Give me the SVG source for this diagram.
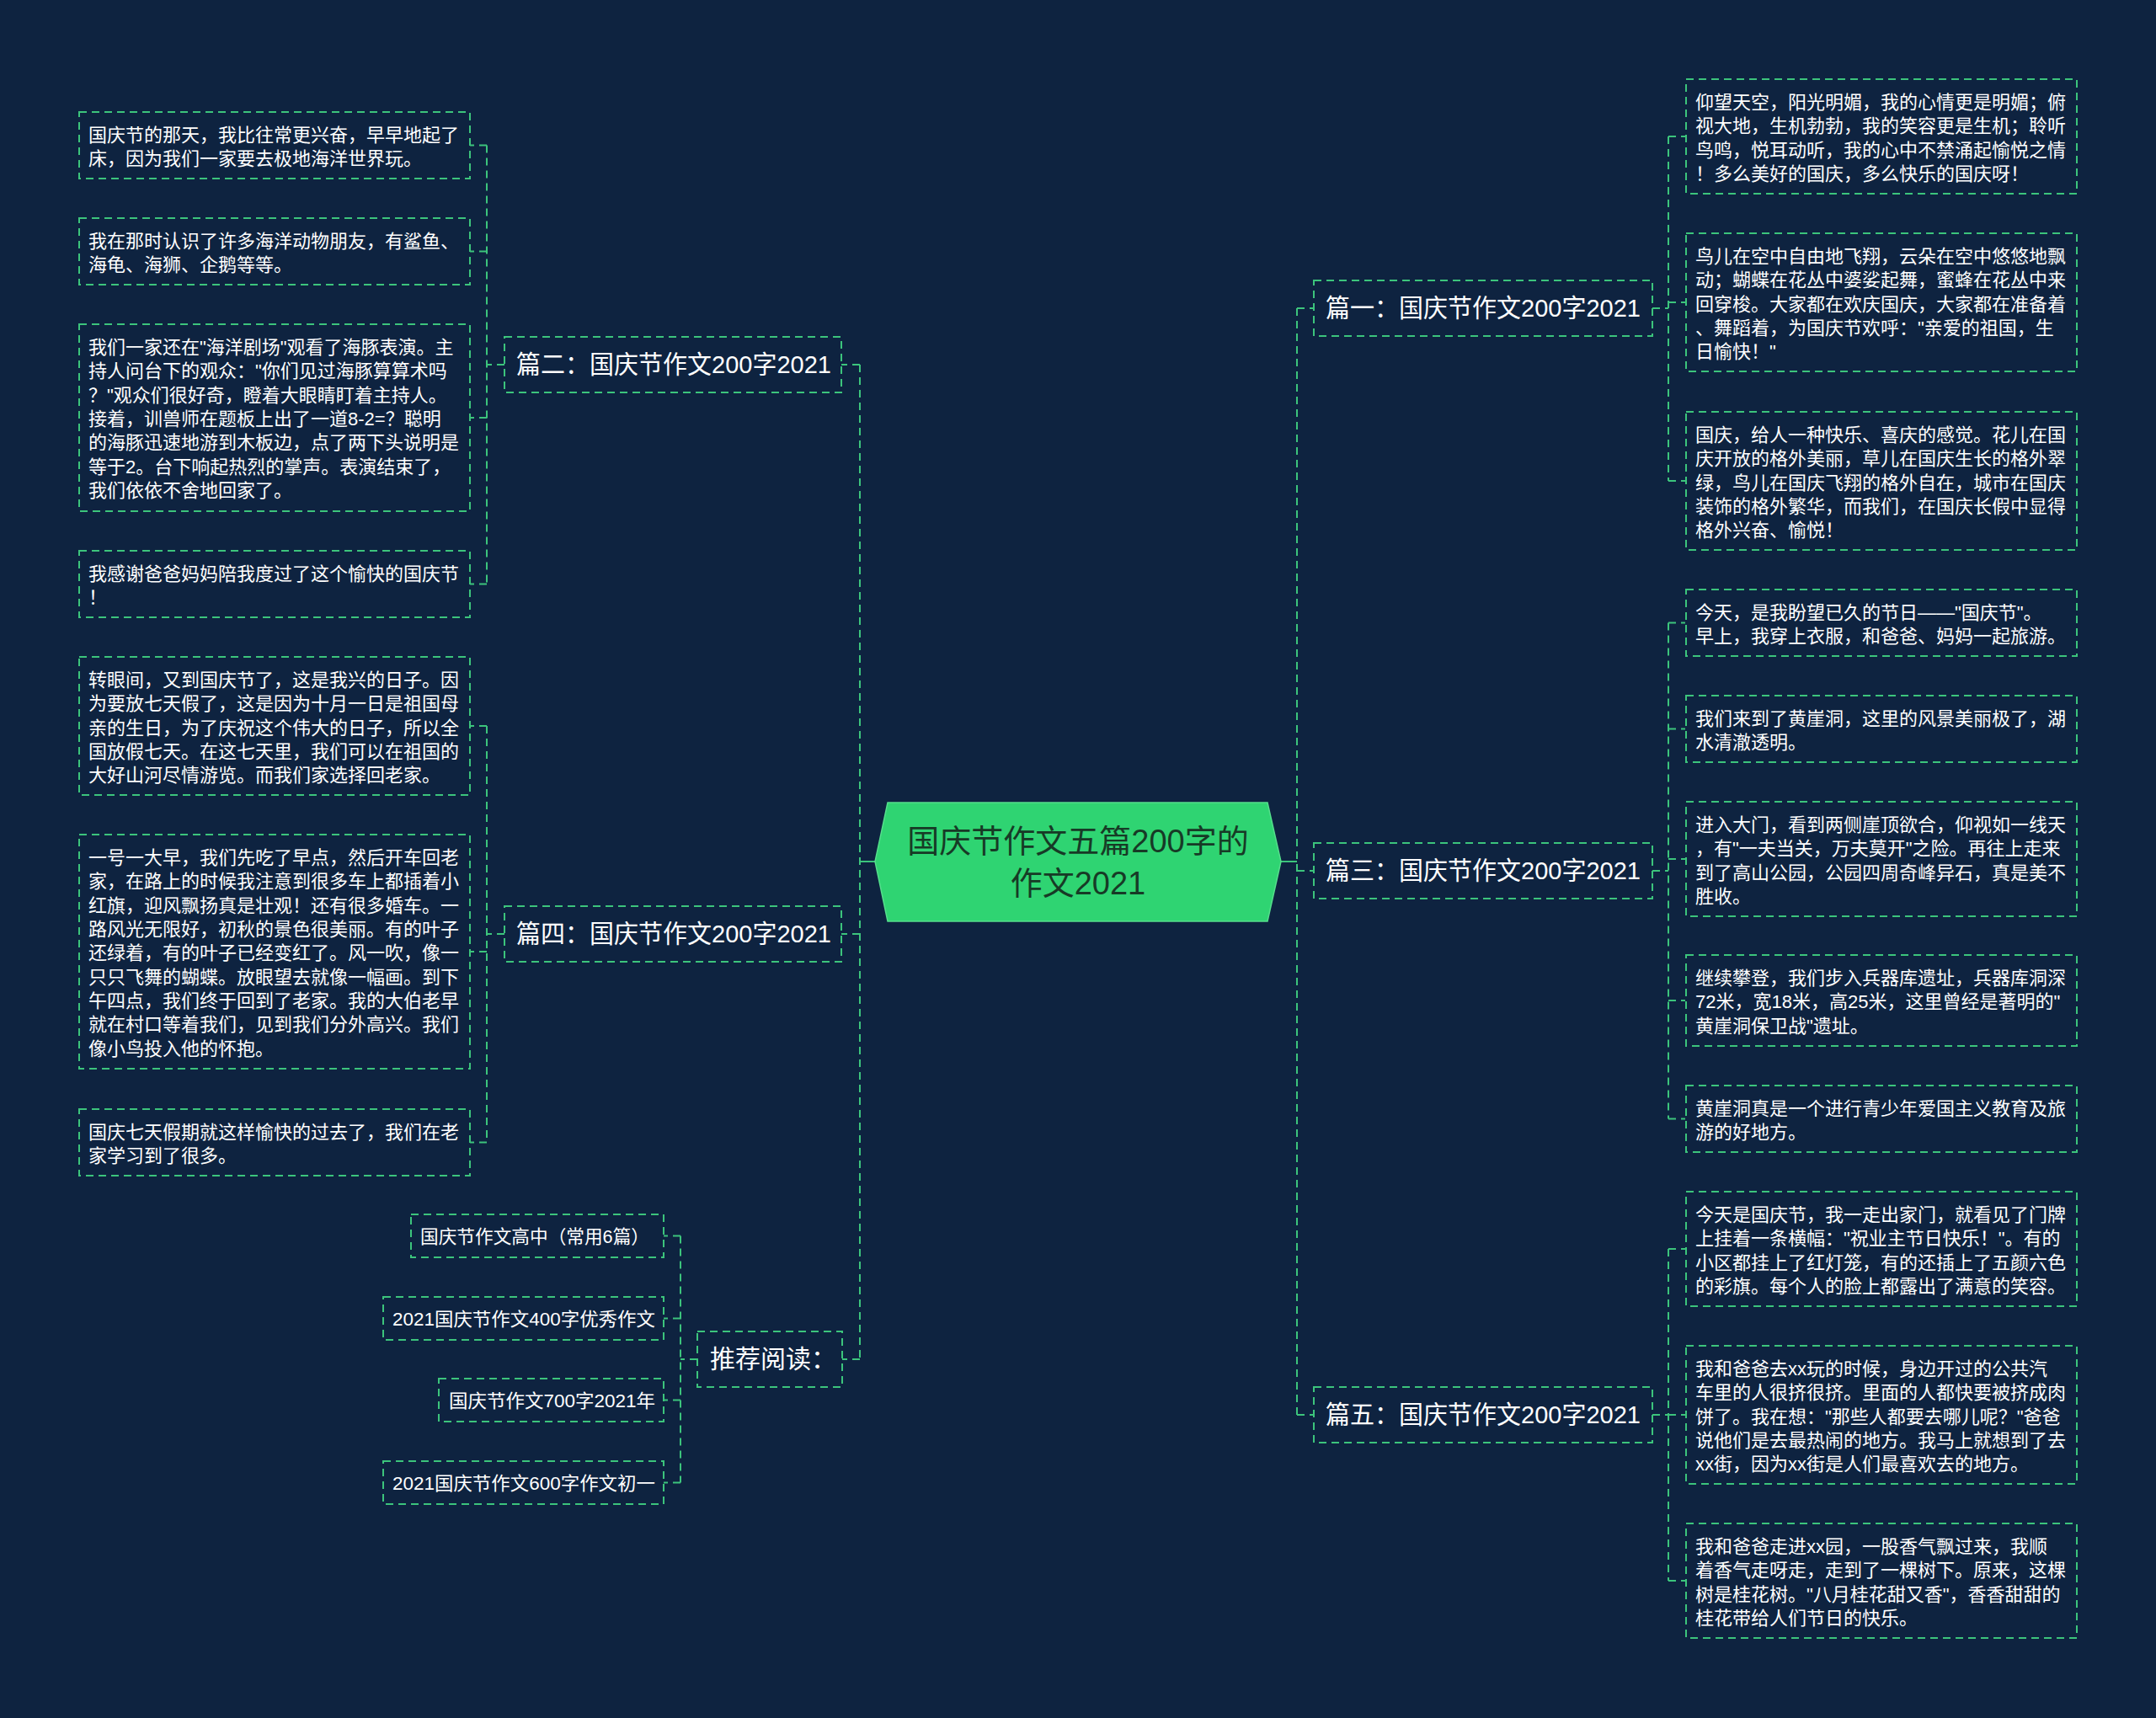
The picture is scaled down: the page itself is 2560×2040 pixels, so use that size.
<svg xmlns="http://www.w3.org/2000/svg" width="2560" height="2040" viewBox="0 0 2560 2040">
<style>
.bg{fill:#0e2340}
.box{fill:#0e2340;stroke:#3cc47c;stroke-width:2;stroke-dasharray:9 6}
.conn{fill:none;stroke:#3cc47c;stroke-width:2;stroke-dasharray:9 6}
.solid{fill:none;stroke:#3cc47c;stroke-width:2}
.lf{font-family:"Liberation Sans","Noto Sans CJK SC",sans-serif;font-size:22px;fill:#ffffff}
.br{font-family:"Liberation Sans","Noto Sans CJK SC",sans-serif;font-size:30px;fill:#ffffff}
.rt{font-family:"Liberation Sans","Noto Sans CJK SC",sans-serif;font-size:38px;fill:#173a26;text-anchor:middle}
</style>
<rect class="bg" x="0" y="0" width="2560" height="2040"/>

<g id="connectors">
  <path class="solid" d="M1521,1023 H1540"/>
  <path class="solid" d="M1039,1023 H1021"/>
  <path class="conn" d="M1540,366 V1680"/>
  <path class="conn" d="M1540,366 H1560 M1540,1034 H1560 M1540,1680 H1560"/>
  <path class="conn" d="M1021,433 V1614"/>
  <path class="conn" d="M1021,433 H999 M1021,1109 H999 M1021,1614 H1000"/>
  <!-- 篇二 leaves -->
  <path class="conn" d="M599,433 H578 M578,172.5 V693.5 M578,172.5 H558 M578,298.5 H558 M578,496 H558 M578,693.5 H558"/>
  <!-- 篇四 leaves -->
  <path class="conn" d="M599,1109 H578 M578,862 V1356.5 M578,862 H558 M578,1130 H558 M578,1356.5 H558"/>
  <!-- 推荐阅读 leaves -->
  <path class="conn" d="M828,1614 H808 M808,1467.5 V1760.5 M808,1467.5 H788 M808,1565.5 H788 M808,1662.5 H788 M808,1760.5 H788"/>
  <!-- 篇一 leaves -->
  <path class="conn" d="M1962,366 H1981 M1981,162 V571 M1981,162 H2001 M1981,359 H2001 M1981,571 H2001"/>
  <!-- 篇三 leaves -->
  <path class="conn" d="M1962,1034 H1981 M1981,739.5 V1328.5 M1981,739.5 H2001 M1981,865.5 H2001 M1981,1020 H2001 M1981,1188 H2001 M1981,1328.5 H2001"/>
  <!-- 篇五 leaves -->
  <path class="conn" d="M1962,1680 H1981 M1981,1483 V1877 M1981,1483 H2001 M1981,1680 H2001 M1981,1877 H2001"/>
</g>

<g id="root">
  <polygon points="1054,953 1505,953 1521,1023 1505,1094 1054,1094 1039,1023" fill="#2fd472" stroke="#55de8c" stroke-width="1.5"/>
  <text class="rt" x="1280" y="1012">国庆节作文五篇200字的</text>
  <text class="rt" x="1280" y="1062">作文2021</text>
</g>

<g id="b-pian1">
  <rect class="box" x="1560" y="333" width="402" height="66"/>
  <text class="br" x="1574" y="376" textLength="374" lengthAdjust="spacingAndGlyphs">篇一：国庆节作文200字2021</text>
</g>
<g id="b-pian3">
  <rect class="box" x="1560" y="1001" width="402" height="66"/>
  <text class="br" x="1574" y="1044" textLength="374" lengthAdjust="spacingAndGlyphs">篇三：国庆节作文200字2021</text>
</g>
<g id="b-pian5">
  <rect class="box" x="1560" y="1647" width="402" height="66"/>
  <text class="br" x="1574" y="1690" textLength="374" lengthAdjust="spacingAndGlyphs">篇五：国庆节作文200字2021</text>
</g>
<g id="b-pian2">
  <rect class="box" x="599" y="400" width="400" height="66"/>
  <text class="br" x="613" y="443" textLength="374" lengthAdjust="spacingAndGlyphs">篇二：国庆节作文200字2021</text>
</g>
<g id="b-pian4">
  <rect class="box" x="599" y="1076" width="400" height="66"/>
  <text class="br" x="613" y="1119" textLength="374" lengthAdjust="spacingAndGlyphs">篇四：国庆节作文200字2021</text>
</g>
<g id="b-tuijian">
  <rect class="box" x="828" y="1581" width="172" height="66"/>
  <text class="br" x="843" y="1624">推荐阅读：</text>
</g>

<g id="l1">
  <rect class="box" x="94" y="133" width="464" height="79"/>
  <text class="lf"><tspan x="105" y="168">国庆节的那天，我比往常更兴奋，早早地起了</tspan><tspan x="105" y="196.3">床，因为我们一家要去极地海洋世界玩。</tspan></text>
</g>
<g id="l2">
  <rect class="box" x="94" y="259" width="464" height="79"/>
  <text class="lf"><tspan x="105" y="294">我在那时认识了许多海洋动物朋友，有鲨鱼、</tspan><tspan x="105" y="322.3">海龟、海狮、企鹅等等。</tspan></text>
</g>
<g id="l3">
  <rect class="box" x="94" y="385" width="464" height="222"/>
  <text class="lf"><tspan x="105" y="420">我们一家还在"海洋剧场"观看了海豚表演。主</tspan><tspan x="105" y="448.3">持人问台下的观众："你们见过海豚算算术吗</tspan><tspan x="105" y="476.7">？"观众们很好奇，瞪着大眼睛盯着主持人。</tspan><tspan x="105" y="505">接着，训兽师在题板上出了一道8-2=？聪明</tspan><tspan x="105" y="533.3">的海豚迅速地游到木板边，点了两下头说明是</tspan><tspan x="105" y="561.7">等于2。台下响起热烈的掌声。表演结束了，</tspan><tspan x="105" y="590">我们依依不舍地回家了。</tspan></text>
</g>
<g id="l4">
  <rect class="box" x="94" y="654" width="464" height="79"/>
  <text class="lf"><tspan x="105" y="689">我感谢爸爸妈妈陪我度过了这个愉快的国庆节</tspan><tspan x="105" y="717.3">！</tspan></text>
</g>
<g id="l5">
  <rect class="box" x="94" y="780" width="464" height="164"/>
  <text class="lf"><tspan x="105" y="815">转眼间，又到国庆节了，这是我兴的日子。因</tspan><tspan x="105" y="843.3">为要放七天假了，这是因为十月一日是祖国母</tspan><tspan x="105" y="871.7">亲的生日，为了庆祝这个伟大的日子，所以全</tspan><tspan x="105" y="900">国放假七天。在这七天里，我们可以在祖国的</tspan><tspan x="105" y="928.3">大好山河尽情游览。而我们家选择回老家。</tspan></text>
</g>
<g id="l6">
  <rect class="box" x="94" y="991" width="464" height="278"/>
  <text class="lf"><tspan x="105" y="1026">一号一大早，我们先吃了早点，然后开车回老</tspan><tspan x="105" y="1054.3">家，在路上的时候我注意到很多车上都插着小</tspan><tspan x="105" y="1082.7">红旗，迎风飘扬真是壮观！还有很多婚车。一</tspan><tspan x="105" y="1111">路风光无限好，初秋的景色很美丽。有的叶子</tspan><tspan x="105" y="1139.3">还绿着，有的叶子已经变红了。风一吹，像一</tspan><tspan x="105" y="1167.7">只只飞舞的蝴蝶。放眼望去就像一幅画。到下</tspan><tspan x="105" y="1196">午四点，我们终于回到了老家。我的大伯老早</tspan><tspan x="105" y="1224.3">就在村口等着我们，见到我们分外高兴。我们</tspan><tspan x="105" y="1252.7">像小鸟投入他的怀抱。</tspan></text>
</g>
<g id="l7">
  <rect class="box" x="94" y="1317" width="464" height="79"/>
  <text class="lf"><tspan x="105" y="1352">国庆七天假期就这样愉快的过去了，我们在老</tspan><tspan x="105" y="1380.3">家学习到了很多。</tspan></text>
</g>

<g id="rec1">
  <rect class="box" x="488" y="1442" width="300" height="51"/>
  <text class="lf" x="499" y="1475.5" textLength="272" lengthAdjust="spacingAndGlyphs">国庆节作文高中（常用6篇）</text>
</g>
<g id="rec2">
  <rect class="box" x="455" y="1540" width="333" height="51"/>
  <text class="lf" x="466" y="1573.5" textLength="312" lengthAdjust="spacingAndGlyphs">2021国庆节作文400字优秀作文</text>
</g>
<g id="rec3">
  <rect class="box" x="521" y="1637" width="267" height="51"/>
  <text class="lf" x="533" y="1670.5" textLength="245" lengthAdjust="spacingAndGlyphs">国庆节作文700字2021年</text>
</g>
<g id="rec4">
  <rect class="box" x="455" y="1735" width="333" height="51"/>
  <text class="lf" x="466" y="1768.5" textLength="312" lengthAdjust="spacingAndGlyphs">2021国庆节作文600字作文初一</text>
</g>

<g id="r1">
  <rect class="box" x="2002" y="94" width="464" height="136"/>
  <text class="lf"><tspan x="2013" y="129">仰望天空，阳光明媚，我的心情更是明媚；俯</tspan><tspan x="2013" y="157.3">视大地，生机勃勃，我的笑容更是生机；聆听</tspan><tspan x="2013" y="185.7">鸟鸣，悦耳动听，我的心中不禁涌起愉悦之情</tspan><tspan x="2013" y="214">！多么美好的国庆，多么快乐的国庆呀！</tspan></text>
</g>
<g id="r2">
  <rect class="box" x="2002" y="277" width="464" height="164"/>
  <text class="lf"><tspan x="2013" y="312">鸟儿在空中自由地飞翔，云朵在空中悠悠地飘</tspan><tspan x="2013" y="340.3">动；蝴蝶在花丛中婆娑起舞，蜜蜂在花丛中来</tspan><tspan x="2013" y="368.7">回穿梭。大家都在欢庆国庆，大家都在准备着</tspan><tspan x="2013" y="397">、舞蹈着，为国庆节欢呼："亲爱的祖国，生</tspan><tspan x="2013" y="425.3">日愉快！"</tspan></text>
</g>
<g id="r3">
  <rect class="box" x="2002" y="489" width="464" height="164"/>
  <text class="lf"><tspan x="2013" y="524">国庆，给人一种快乐、喜庆的感觉。花儿在国</tspan><tspan x="2013" y="552.3">庆开放的格外美丽，草儿在国庆生长的格外翠</tspan><tspan x="2013" y="580.7">绿，鸟儿在国庆飞翔的格外自在，城市在国庆</tspan><tspan x="2013" y="609">装饰的格外繁华，而我们，在国庆长假中显得</tspan><tspan x="2013" y="637.3">格外兴奋、愉悦！</tspan></text>
</g>
<g id="r4">
  <rect class="box" x="2002" y="700" width="464" height="79"/>
  <text class="lf"><tspan x="2013" y="735">今天，是我盼望已久的节日——"国庆节"。</tspan><tspan x="2013" y="763.3">早上，我穿上衣服，和爸爸、妈妈一起旅游。</tspan></text>
</g>
<g id="r5">
  <rect class="box" x="2002" y="826" width="464" height="79"/>
  <text class="lf"><tspan x="2013" y="861">我们来到了黄崖洞，这里的风景美丽极了，湖</tspan><tspan x="2013" y="889.3">水清澈透明。</tspan></text>
</g>
<g id="r6">
  <rect class="box" x="2002" y="952" width="464" height="136"/>
  <text class="lf"><tspan x="2013" y="987">进入大门，看到两侧崖顶欲合，仰视如一线天</tspan><tspan x="2013" y="1015.3">，有"一夫当关，万夫莫开"之险。再往上走来</tspan><tspan x="2013" y="1043.7">到了高山公园，公园四周奇峰异石，真是美不</tspan><tspan x="2013" y="1072">胜收。</tspan></text>
</g>
<g id="r7">
  <rect class="box" x="2002" y="1134" width="464" height="108"/>
  <text class="lf"><tspan x="2013" y="1169">继续攀登，我们步入兵器库遗址，兵器库洞深</tspan><tspan x="2013" y="1197.3">72米，宽18米，高25米，这里曾经是著明的"</tspan><tspan x="2013" y="1225.7">黄崖洞保卫战"遗址。</tspan></text>
</g>
<g id="r8">
  <rect class="box" x="2002" y="1289" width="464" height="79"/>
  <text class="lf"><tspan x="2013" y="1324">黄崖洞真是一个进行青少年爱国主义教育及旅</tspan><tspan x="2013" y="1352.3">游的好地方。</tspan></text>
</g>
<g id="r9">
  <rect class="box" x="2002" y="1415" width="464" height="136"/>
  <text class="lf"><tspan x="2013" y="1450">今天是国庆节，我一走出家门，就看见了门牌</tspan><tspan x="2013" y="1478.3">上挂着一条横幅："祝业主节日快乐！"。有的</tspan><tspan x="2013" y="1506.7">小区都挂上了红灯笼，有的还插上了五颜六色</tspan><tspan x="2013" y="1535">的彩旗。每个人的脸上都露出了满意的笑容。</tspan></text>
</g>
<g id="r10">
  <rect class="box" x="2002" y="1598" width="464" height="164"/>
  <text class="lf"><tspan x="2013" y="1633">我和爸爸去xx玩的时候，身边开过的公共汽</tspan><tspan x="2013" y="1661.3">车里的人很挤很挤。里面的人都快要被挤成肉</tspan><tspan x="2013" y="1689.7">饼了。我在想："那些人都要去哪儿呢？"爸爸</tspan><tspan x="2013" y="1718">说他们是去最热闹的地方。我马上就想到了去</tspan><tspan x="2013" y="1746.3">xx街，因为xx街是人们最喜欢去的地方。</tspan></text>
</g>
<g id="r11">
  <rect class="box" x="2002" y="1809" width="464" height="136"/>
  <text class="lf"><tspan x="2013" y="1844">我和爸爸走进xx园，一股香气飘过来，我顺</tspan><tspan x="2013" y="1872.3">着香气走呀走，走到了一棵树下。原来，这棵</tspan><tspan x="2013" y="1900.7">树是桂花树。"八月桂花甜又香"，香香甜甜的</tspan><tspan x="2013" y="1929">桂花带给人们节日的快乐。</tspan></text>
</g>
</svg>
